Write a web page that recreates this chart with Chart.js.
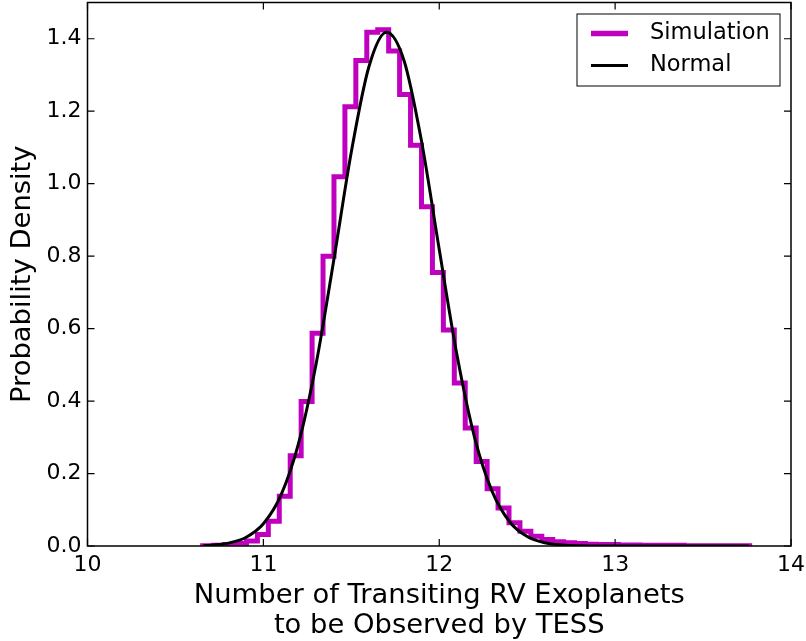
<!DOCTYPE html>
<html>
<head>
<meta charset="utf-8">
<script src="https://cdn.jsdelivr.net/npm/chart.js@4/dist/chart.umd.min.js"></script>
<style>
  body { margin: 0; background: #fff; }
  #wrap { width: 806px; height: 641px; }
</style>
</head>
<body>
<div id="wrap"><canvas id="grafica" width="806" height="641"></canvas></div>
<script>
// histogram (density per bin), 50 bins
const binStart = 10.655;
const binWidth = 0.0622;
const simDensity = [
  0.001, 0.002, 0.004, 0.007, 0.014, 0.032, 0.068, 0.137, 0.249, 0.399,
  0.587, 0.800, 1.019, 1.212, 1.340, 1.418, 1.425, 1.366, 1.246, 1.106,
  0.936, 0.755, 0.596, 0.450, 0.326, 0.233, 0.158, 0.105, 0.064, 0.041,
  0.027, 0.018, 0.012, 0.009, 0.007, 0.005, 0.004, 0.004, 0.003, 0.003,
  0.002, 0.002, 0.002, 0.002, 0.001, 0.001, 0.001, 0.001, 0.001, 0.001
];

// normal curve
const normalX = [10.66, 10.7, 10.8, 10.9, 11.0, 11.1, 11.2, 11.3, 11.4, 11.5, 11.6, 11.7,
  11.8, 11.9, 12.0, 12.1, 12.2, 12.3, 12.4, 12.5, 12.6, 12.7, 12.8, 12.9, 13.0, 13.2, 13.4, 13.6, 13.76];
const normalY = [0.0014, 0.0024, 0.0080, 0.0236, 0.0614, 0.1404, 0.2832, 0.5030, 0.7879, 1.0872, 1.3226, 1.4178,
  1.3394, 1.1152, 0.8182, 0.5291, 0.3015, 0.1514, 0.0670, 0.0261, 0.0090, 0.0027, 0.0007, 0.0002, 0, 0, 0, 0, 0];

const xTicks = [10, 11, 12, 13, 14];
const yTicks = [0, 0.2, 0.4, 0.6, 0.8, 1.0, 1.2, 1.4];

const fam = '"DejaVu Sans", sans-serif';
const magenta = '#bf00bf';

// step outline points: baseline, each bin's left edge, closing edge
const edges = simDensity.map((_, i) => +(binStart + i * binWidth).toFixed(4));
const lastEdge = +(binStart + simDensity.length * binWidth).toFixed(4);
let histPts = [{ x: edges[0], y: 0 }];
simDensity.forEach((d, i) => histPts.push({ x: edges[i], y: d }));
histPts.push({ x: lastEdge, y: 0 });

let normalPts = normalX.map((v, i) => ({ x: v, y: normalY[i] }));

const sinPadding = s => {
  s.paddingTop = 0; s.paddingBottom = 0; s.paddingLeft = 0; s.paddingRight = 0;
};

const marco = {
  id: 'marco',
  afterDatasetsDraw(chart) {
    const { ctx, chartArea: a, scales } = chart;
    ctx.save();
    ctx.strokeStyle = '#000';
    ctx.lineWidth = 1.5;
    ctx.strokeRect(a.left, a.top, a.right - a.left, a.bottom - a.top);
    ctx.lineWidth = 1.2;
    ctx.beginPath();
    xTicks.forEach(v => {
      const px = scales.x.getPixelForValue(v);
      ctx.moveTo(px, a.bottom); ctx.lineTo(px, a.bottom - 7);
      ctx.moveTo(px, a.top); ctx.lineTo(px, a.top + 7);
    });
    yTicks.forEach(v => {
      const py = scales.y.getPixelForValue(v);
      ctx.moveTo(a.left, py); ctx.lineTo(a.left + 7, py);
      ctx.moveTo(a.right, py); ctx.lineTo(a.right - 7, py);
    });
    ctx.stroke();

    // leyenda
    const bx = a.right - 214, by = a.top + 11.5, bw = 203, bh = 72;
    ctx.fillStyle = '#fff';
    ctx.fillRect(bx, by, bw, bh);
    ctx.lineWidth = 1;
    ctx.strokeRect(bx, by, bw, bh);
    const ds = chart.data.datasets;
    const rows = [ds[1], ds[0]];
    rows.forEach((d, i) => {
      const yy = by + 19.5 + i * 32;
      ctx.strokeStyle = d.borderColor;
      ctx.lineWidth = i === 0 ? 5.5 : 3;
      ctx.beginPath();
      ctx.moveTo(bx + 14, yy); ctx.lineTo(bx + 51, yy);
      ctx.stroke();
      ctx.fillStyle = '#000';
      ctx.font = '22.5px ' + fam;
      ctx.textBaseline = 'middle';
      ctx.textAlign = 'left';
      ctx.fillText(d.label, bx + 73, yy);
    });
    ctx.restore();
  }
};

let ctx = document.getElementById('grafica').getContext('2d');
new Chart(ctx, {
  type: 'line',
  data: {
    datasets: [
      {
        label: 'Normal',
        data: normalPts,
        borderColor: '#000',
        borderWidth: 3,
        pointRadius: 0,
        fill: false,
        cubicInterpolationMode: 'monotone',
        order: 1
      },
      {
        label: 'Simulation',
        data: histPts,
        borderColor: magenta,
        borderWidth: 5,
        pointRadius: 0,
        fill: false,
        stepped: 'before',
        order: 2
      }
    ]
  },
  options: {
    responsive: false,
    animation: false,
    devicePixelRatio: 1,
    layout: { padding: { top: 2.5, right: 15, left: 0, bottom: 0 } },
    plugins: { legend: { display: false }, tooltip: { enabled: false } },
    scales: {
      x: {
        type: 'linear',
        min: 10, max: 14,
        afterFit: s => { s.height = 95; sinPadding(s); },
        afterBuildTicks: s => { s.ticks = xTicks.map(v => ({ value: v })); },
        grid: { display: false, drawTicks: false },
        border: { display: false },
        ticks: { color: '#000', font: { family: fam, size: 22 }, padding: 6, maxRotation: 0, autoSkip: false },
        title: {
          display: true,
          text: ['Number of Transiting RV Exoplanets', 'to be Observed by TESS'],
          color: '#000',
          font: { family: fam, size: 27.4, lineHeight: 1.1 },
          padding: { top: 0, bottom: 0 }
        }
      },
      y: {
        min: 0, max: 1.5,
        afterFit: s => { s.width = 87.5; sinPadding(s); },
        afterBuildTicks: s => { s.ticks = yTicks.map(v => ({ value: v })); },
        grid: { display: false, drawTicks: false },
        border: { display: false },
        ticks: { color: '#000', font: { family: fam, size: 22 }, padding: 6, callback: v => v.toFixed(1) },
        title: {
          display: true,
          text: 'Probability Density',
          color: '#000',
          font: { family: fam, size: 27.4, lineHeight: 1.2 },
          padding: { top: 6, bottom: 0 }
        }
      }
    }
  },
  plugins: [marco]
});
</script>
</body>
</html>
